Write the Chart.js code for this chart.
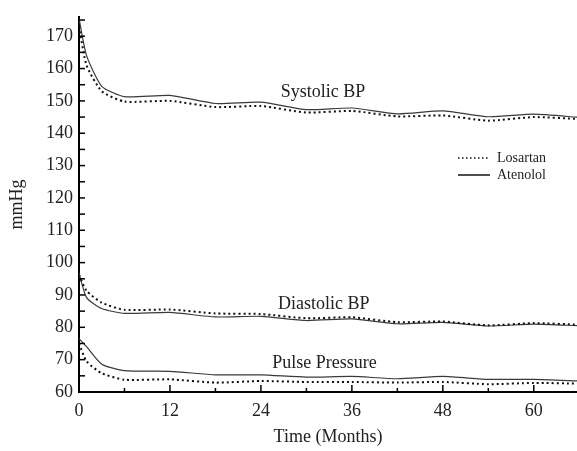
<!DOCTYPE html>
<html>
<head>
<meta charset="utf-8">
<script src="https://cdn.jsdelivr.net/npm/chart.js@4.4.0/dist/chart.umd.min.js"></script>
<style>
  body { margin: 0; background: #fff; }
  #wrap { width: 577px; height: 451px; }
</style>
</head>
<body>
<div id="wrap"><canvas id="chart-area"></canvas></div>
<script>
// months of follow-up
var months = [0, 1, 3, 6, 12, 18, 24, 30, 36, 42, 48, 54, 60, 66];

// mmHg
var systolicLosartan = [173, 161, 153, 149.8, 150, 148.1, 148.4, 146.4, 146.9, 145.2, 145.5, 143.9, 145, 144.4];
var systolicAtenolol = [175.5, 164, 154.5, 151.3, 151.7, 149.2, 149.6, 147.3, 147.8, 146, 146.9, 145.1, 145.9, 144.9];
var diastolicLosartan = [96.2, 91.3, 87.6, 85.4, 85.5, 84.3, 84.1, 82.8, 83.1, 81.6, 81.8, 80.6, 81.3, 80.8];
var diastolicAtenolol = [96.7, 89.2, 85.8, 84.3, 84.6, 83.2, 83.4, 82.1, 82.6, 81.1, 81.5, 80.4, 81, 80.5];
var pulseLosartan = [75, 69.5, 65.8, 63.8, 63.9, 62.9, 63.4, 63.1, 63.1, 62.9, 63.1, 62.4, 62.8, 62.6];
var pulseAtenolol = [76.5, 74, 68.6, 66.6, 66.4, 65.3, 65.3, 64.6, 64.8, 64.1, 64.8, 63.9, 63.9, 63.4];

var xTickLabels = [0, 12, 24, 36, 48, 60];
var yTickLabels = [60, 70, 80, 90, 100, 110, 120, 130, 140, 150, 160, 170];

var curveNames = ['Systolic BP', 'Diastolic BP', 'Pulse Pressure'];
var curveNameSpots = [{ x: 32.2, y: 152.8 }, { x: 32.3, y: 87.1 }, { x: 32.4, y: 69 }];

var serif = 'Liberation Serif, Times New Roman, serif';
var ink = '#222';

function pairs(values) {
    return values.map(function (v, i) { return { x: months[i], y: v }; });
}

var dotted = { borderColor: '#111', borderWidth: 2, borderDash: [2, 3] };
var solid = { borderColor: '#3a3a3a', borderWidth: 1.2, borderDash: [] };

function line(label, values, style) {
    return {
        label: label,
        data: pairs(values),
        borderColor: style.borderColor,
        borderWidth: style.borderWidth,
        borderDash: style.borderDash,
        pointRadius: 0,
        tension: 0.2,
        fill: false
    };
}

// inward tick marks, like the original figure
var innerTicks = {
    id: 'innerTicks',
    afterDraw: function (chart) {
        var ctx = chart.ctx;
        var xs = chart.scales.x, ys = chart.scales.y;
        var area = chart.chartArea;
        ctx.save();
        ctx.strokeStyle = '#000';
        ctx.lineWidth = 1.5;
        xs.ticks.forEach(function (t) {
            var px = xs.getPixelForValue(t.value);
            var len = xTickLabels.indexOf(t.value) >= 0 ? 7 : 4;
            ctx.beginPath();
            ctx.moveTo(px, area.bottom);
            ctx.lineTo(px, area.bottom - len);
            ctx.stroke();
        });
        ys.ticks.forEach(function (t) {
            var py = ys.getPixelForValue(t.value);
            ctx.beginPath();
            ctx.moveTo(area.left, py);
            ctx.lineTo(area.left + 6, py);
            ctx.stroke();
        });
        ctx.restore();
    }
};

var curveTitles = {
    id: 'curveTitles',
    afterDatasetsDraw: function (chart) {
        var ctx = chart.ctx;
        ctx.save();
        ctx.fillStyle = ink;
        ctx.font = '18px ' + serif;
        ctx.textAlign = 'center';
        ctx.textBaseline = 'middle';
        curveNames.forEach(function (name, i) {
            var s = curveNameSpots[i];
            ctx.fillText(name, chart.scales.x.getPixelForValue(s.x), chart.scales.y.getPixelForValue(s.y));
        });
        ctx.restore();
    }
};

var sideLegend = {
    id: 'sideLegend',
    afterDraw: function (chart) {
        var ctx = chart.ctx;
        var styles = [dotted, solid];
        var names = ['Losartan', 'Atenolol'];
        ctx.save();
        ctx.font = '14px ' + serif;
        ctx.textBaseline = 'middle';
        names.forEach(function (name, i) {
            var y = 158 + i * 17;
            ctx.strokeStyle = styles[i].borderColor;
            ctx.lineWidth = i === 0 ? 1.5 : 1.8;
            ctx.setLineDash(i === 0 ? [1.5, 2.5] : []);
            ctx.beginPath();
            ctx.moveTo(458, y);
            ctx.lineTo(490, y);
            ctx.stroke();
            ctx.setLineDash([]);
            ctx.fillStyle = ink;
            ctx.fillText(name, 497, y);
        });
        ctx.restore();
    }
};

var config = {
    type: 'line',
    data: {
        datasets: [
            line('Systolic Losartan', systolicLosartan, dotted),
            line('Systolic Atenolol', systolicAtenolol, solid),
            line('Diastolic Losartan', diastolicLosartan, dotted),
            line('Diastolic Atenolol', diastolicAtenolol, solid),
            line('Pulse Losartan', pulseLosartan, dotted),
            line('Pulse Atenolol', pulseAtenolol, solid)
        ]
    },
    options: {
        responsive: true,
        maintainAspectRatio: false,
        animation: false,
        layout: { padding: { top: 6, right: 0, bottom: 0, left: 0 } },
        plugins: {
            legend: { display: false },
            tooltip: { enabled: false }
        },
        scales: {
            x: {
                type: 'linear',
                min: 0,
                max: 65.7,
                grid: { display: false, drawTicks: false },
                border: { display: true, color: '#000', width: 2 },
                ticks: {
                    stepSize: 6,
                    includeBounds: false,
                    autoSkip: false,
                    maxRotation: 0,
                    padding: 8,
                    color: ink,
                    font: { family: serif, size: 18 },
                    callback: function (v) { return xTickLabels.indexOf(v) >= 0 ? String(v) : ''; }
                },
                title: {
                    display: true,
                    text: 'Time (Months)',
                    color: ink,
                    font: { family: serif, size: 18 },
                    padding: { top: 0, bottom: 3 }
                },
                afterFit: function (s) { s.height = 59; }
            },
            y: {
                min: 60,
                max: 176,
                grid: { display: false, drawTicks: false },
                border: { display: true, color: '#000', width: 2 },
                ticks: {
                    stepSize: 5,
                    includeBounds: false,
                    autoSkip: false,
                    padding: 6,
                    color: ink,
                    font: { family: serif, size: 18 },
                    callback: function (v) { return yTickLabels.indexOf(v) >= 0 ? String(v) : ''; }
                },
                title: {
                    display: true,
                    text: 'mmHg',
                    color: ink,
                    font: { family: serif, size: 18 },
                    padding: { top: 6, bottom: 0 }
                },
                afterFit: function (s) { s.width = 79; }
            }
        }
    },
    plugins: [innerTicks, curveTitles, sideLegend]
};

var ctx;
var chart;
window.onload = function () {
    ctx = document.getElementById('chart-area').getContext('2d');
    chart = new Chart(ctx, config);
};
</script>
</body>
</html>
